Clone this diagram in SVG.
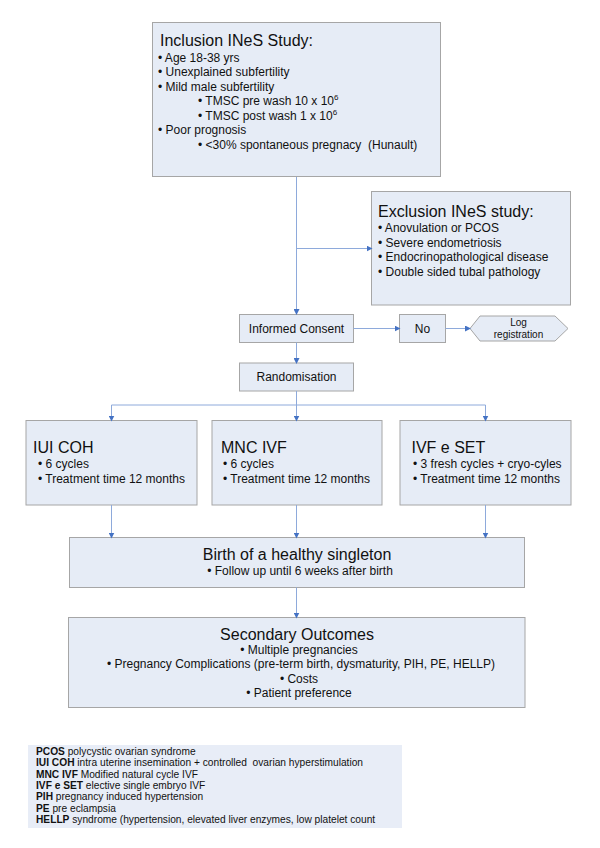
<svg xmlns="http://www.w3.org/2000/svg" width="600" height="848" viewBox="0 0 600 848">
<defs>
<marker id="ah" markerWidth="6" markerHeight="6" refX="5" refY="3" orient="auto" markerUnits="userSpaceOnUse">
<path d="M0,0 L6,3 L0,6 z" fill="#4472C4"/>
</marker>
<style>
text{font-family:"Liberation Sans",Arial,sans-serif;fill:#111}
.box{fill:#E6ECF6;stroke:#A6A6A6;stroke-width:1}
.t16{font-size:16px}
.t12{font-size:12px}
.t10{font-size:10px}
.lg{font-size:10.2px}
.b{font-weight:bold}
.mid{text-anchor:middle}
.con path{fill:none;stroke:#8EAADB;stroke-width:1}
</style>
</defs>
<rect width="600" height="848" fill="#fff"/>

<g id="inclusion">
<rect class="box" x="152.5" y="22.5" width="288" height="154"/>
<text class="t16" x="160" y="46">Inclusion INeS Study:</text>
<text class="t12" x="158" y="61.5">• Age 18-38 yrs</text>
<text class="t12" x="158" y="76">• Unexplained subfertility</text>
<text class="t12" x="158" y="90.6">• Mild male subfertility</text>
<text class="t12" x="198" y="105.2">• TMSC pre wash 10 x 10<tspan font-size="8" dy="-5">6</tspan></text>
<text class="t12" x="198" y="119.8">• TMSC post wash 1 x 10<tspan font-size="8" dy="-5">6</tspan></text>
<text class="t12" x="158" y="134.4">• Poor prognosis</text>
<text class="t12" x="198" y="149" xml:space="preserve">• &lt;30% spontaneous pregnacy  (Hunault)</text>
</g>

<g id="exclusion">
<rect class="box" x="371.5" y="191.5" width="199" height="113.5"/>
<text class="t16" x="378" y="217">Exclusion INeS study:</text>
<text class="t12" x="378" y="232">• Anovulation or PCOS</text>
<text class="t12" x="378" y="246.8">• Severe endometriosis</text>
<text class="t12" x="378" y="261.4">• Endocrinopathological disease</text>
<text class="t12" x="378" y="276">• Double sided tubal pathology</text>
</g>

<g id="consent">
<rect class="box" x="239.5" y="314.5" width="114" height="28"/>
<text class="t12 mid" x="296.5" y="332.5">Informed Consent</text>
</g>

<g id="no">
<rect class="box" x="399.5" y="314.5" width="46" height="28"/>
<text class="t12 mid" x="422.5" y="332.5">No</text>
</g>

<g id="log">
<polygon class="box" points="470,328.5 480,316 555,316 568,328.5 555,341 480,341"/>
<text class="t10 mid" x="518.5" y="325.5">Log</text>
<text class="t10 mid" x="518.5" y="337.5">registration</text>
</g>

<g id="randomisation">
<rect class="box" x="239.5" y="363" width="114" height="28"/>
<text class="t12 mid" x="296.5" y="381">Randomisation</text>
</g>

<g id="iuicoh">
<rect class="box" x="26" y="420.5" width="171" height="84.5"/>
<text class="t16" x="33" y="453">IUI COH</text>
<text class="t12" x="38" y="468">• 6 cycles</text>
<text class="t12" x="38" y="482.7">• Treatment time 12 months</text>
</g>

<g id="mncivf">
<rect class="box" x="212" y="420.5" width="170" height="84.5"/>
<text class="t16" x="221" y="453">MNC IVF</text>
<text class="t12" x="223" y="468">• 6 cycles</text>
<text class="t12" x="223" y="482.7">• Treatment time 12 months</text>
</g>

<g id="ivfeset">
<rect class="box" x="400" y="420.5" width="171" height="84.5"/>
<text class="t16" x="411.5" y="453">IVF e SET</text>
<text class="t12" x="413" y="468">• 3 fresh cycles + cryo-cyles</text>
<text class="t12" x="413" y="482.7">• Treatment time 12 months</text>
</g>

<g id="birth">
<rect class="box" x="69.5" y="537.5" width="455" height="50"/>
<text class="t16 mid" x="297" y="560">Birth of a healthy singleton</text>
<text class="t12 mid" x="300" y="574.5">• Follow up until 6 weeks after birth</text>
</g>

<g id="secondary">
<rect class="box" x="68.5" y="617.5" width="456.5" height="90"/>
<text class="t16 mid" x="297" y="639.5">Secondary Outcomes</text>
<text class="t12 mid" x="299" y="653.7">• Multiple pregnancies</text>
<text class="t12 mid" x="301" y="668">• Pregnancy Complications (pre-term birth, dysmaturity, PIH, PE, HELLP)</text>
<text class="t12 mid" x="299" y="682.5">• Costs</text>
<text class="t12 mid" x="299" y="697">• Patient preference</text>
</g>

<g id="legend">
<rect x="28" y="745" width="374" height="83" fill="#E8EDF7"/>
<text class="lg" x="36" y="755"><tspan class="b">PCOS</tspan> polycystic ovarian syndrome</text>
<text class="lg" x="36" y="766.3" xml:space="preserve"><tspan class="b">IUI COH</tspan> intra uterine insemination + controlled  ovarian hyperstimulation</text>
<text class="lg" x="36" y="777.6"><tspan class="b">MNC IVF</tspan> Modified natural cycle IVF</text>
<text class="lg" x="36" y="788.9"><tspan class="b">IVF e SET</tspan> elective single embryo IVF</text>
<text class="lg" x="36" y="800.2"><tspan class="b">PIH</tspan> pregnancy induced hypertension</text>
<text class="lg" x="36" y="811.5"><tspan class="b">PE</tspan> pre eclampsia</text>
<text class="lg" x="36" y="822.8"><tspan class="b">HELLP</tspan> syndrome (hypertension, elevated liver enzymes, low platelet count</text>
</g>

<g id="connectors" class="con">
<path d="M296.5,177 V314" marker-end="url(#ah)"/>
<path d="M296.5,248.5 H371.5" marker-end="url(#ah)"/>
<path d="M353.5,328.5 H399.5" marker-end="url(#ah)"/>
<path d="M445.5,328.5 H470" marker-end="url(#ah)"/>
<path d="M296.5,342.5 V363" marker-end="url(#ah)"/>
<path d="M296.5,391 V405 M111.5,405 H485.5"/>
<path d="M111.5,405 V420.5" marker-end="url(#ah)"/>
<path d="M296.5,405 V420.5" marker-end="url(#ah)"/>
<path d="M485.5,405 V420.5" marker-end="url(#ah)"/>
<path d="M111.5,505 V537.5" marker-end="url(#ah)"/>
<path d="M296.5,505 V537.5" marker-end="url(#ah)"/>
<path d="M485.5,505 V537.5" marker-end="url(#ah)"/>
<path d="M296.5,587.5 V617.5" marker-end="url(#ah)"/>
</g>
</svg>
